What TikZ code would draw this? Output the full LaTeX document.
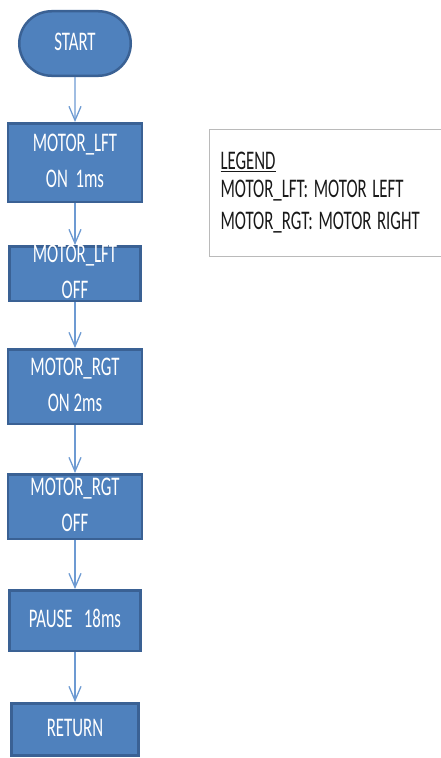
\documentclass[tikz,border=0pt]{standalone}
\usepackage{fontspec}
\setmainfont{Carlito}
\usepackage{graphicx}
\usetikzlibrary{positioning,shapes.misc,arrows.meta}

\definecolor{boxfill}{HTML}{4F81BD}
\definecolor{boxline}{HTML}{3A6194}
\definecolor{flowline}{HTML}{6D9AD2}
\definecolor{legendline}{HTML}{BABABA}

\newcommand{\boxfont}{\fontsize{16.8bp}{22.5bp}\selectfont}
\newcommand{\legendfont}{\fontsize{16.8bp}{20.5bp}\selectfont}
\newcommand{\tall}[1]{\scalebox{1}[1.6]{\begin{tabular}{@{}c@{}}#1\end{tabular}}}

\begin{document}
\begin{tikzpicture}[x=1bp, y=-1bp, node distance=45bp,
  blk/.style={rectangle, draw=boxline, fill=boxfill, line width=2.5bp, text=white, font=\boxfont, inner sep=0pt, text height=13.4bp, text depth=0pt},
  flow/.style={draw=flowline, line width=1.3bp, -{Straight Barb[length=14bp,width=12bp]}}]
	\clip (0,0) rectangle (441,758);
	\node[blk, rounded rectangle, minimum width=111.5bp, minimum height=64.5bp] (start) at (75,43.5) {\tall{START}};
	\node[blk, minimum width=133.5bp, minimum height=78.5bp] (lfton) [below=45bp of start] {\tall{MOTOR\_LFT\\ON\ \ 1ms}};
	\node[blk, minimum width=130.5bp, minimum height=54.5bp] (lftoff) [below=42bp of lfton] {\tall{MOTOR\_LFT\\OFF}};
	\node[blk, minimum width=133.5bp, minimum height=74.5bp] (rgton) [below=46bp of lftoff] {\tall{MOTOR\_RGT\\ON 2ms}};
	\node[blk, minimum width=133.5bp, minimum height=64.5bp] (rgtoff) [below=48bp of rgton] {\tall{MOTOR\_RGT\\OFF}};
	\node[blk, minimum width=130.5bp, minimum height=60.5bp] (pause) [below=49bp of rgtoff] {\tall{PAUSE\ \ \ 18ms}};
	\node[blk, minimum width=126.5bp, minimum height=52bp] (ret) [below=50bp of pause] {\tall{RETURN}};
	\path[flow] (start) -- (lfton);
	\path[flow] (lfton) -- (lftoff);
	\path[flow] (lftoff) -- (rgton);
	\path[flow] (rgton) -- (rgtoff);
	\path[flow] (rgtoff) -- (pause);
	\path[flow] (pause) -- (ret);
	\node[draw=legendline, line width=1bp, anchor=north west, inner xsep=11bp, inner ysep=0pt, text width=230bp, minimum height=127bp, font=\legendfont, text=black!90] (legend) at (209,129)
		{\scalebox{1}[1.6]{\begin{tabular}{@{}l@{}}\underline{LEGEND}\\[-3bp]MOTOR\_LFT: MOTOR LEFT\\MOTOR\_RGT: MOTOR RIGHT\end{tabular}}};
\end{tikzpicture}
\end{document}
